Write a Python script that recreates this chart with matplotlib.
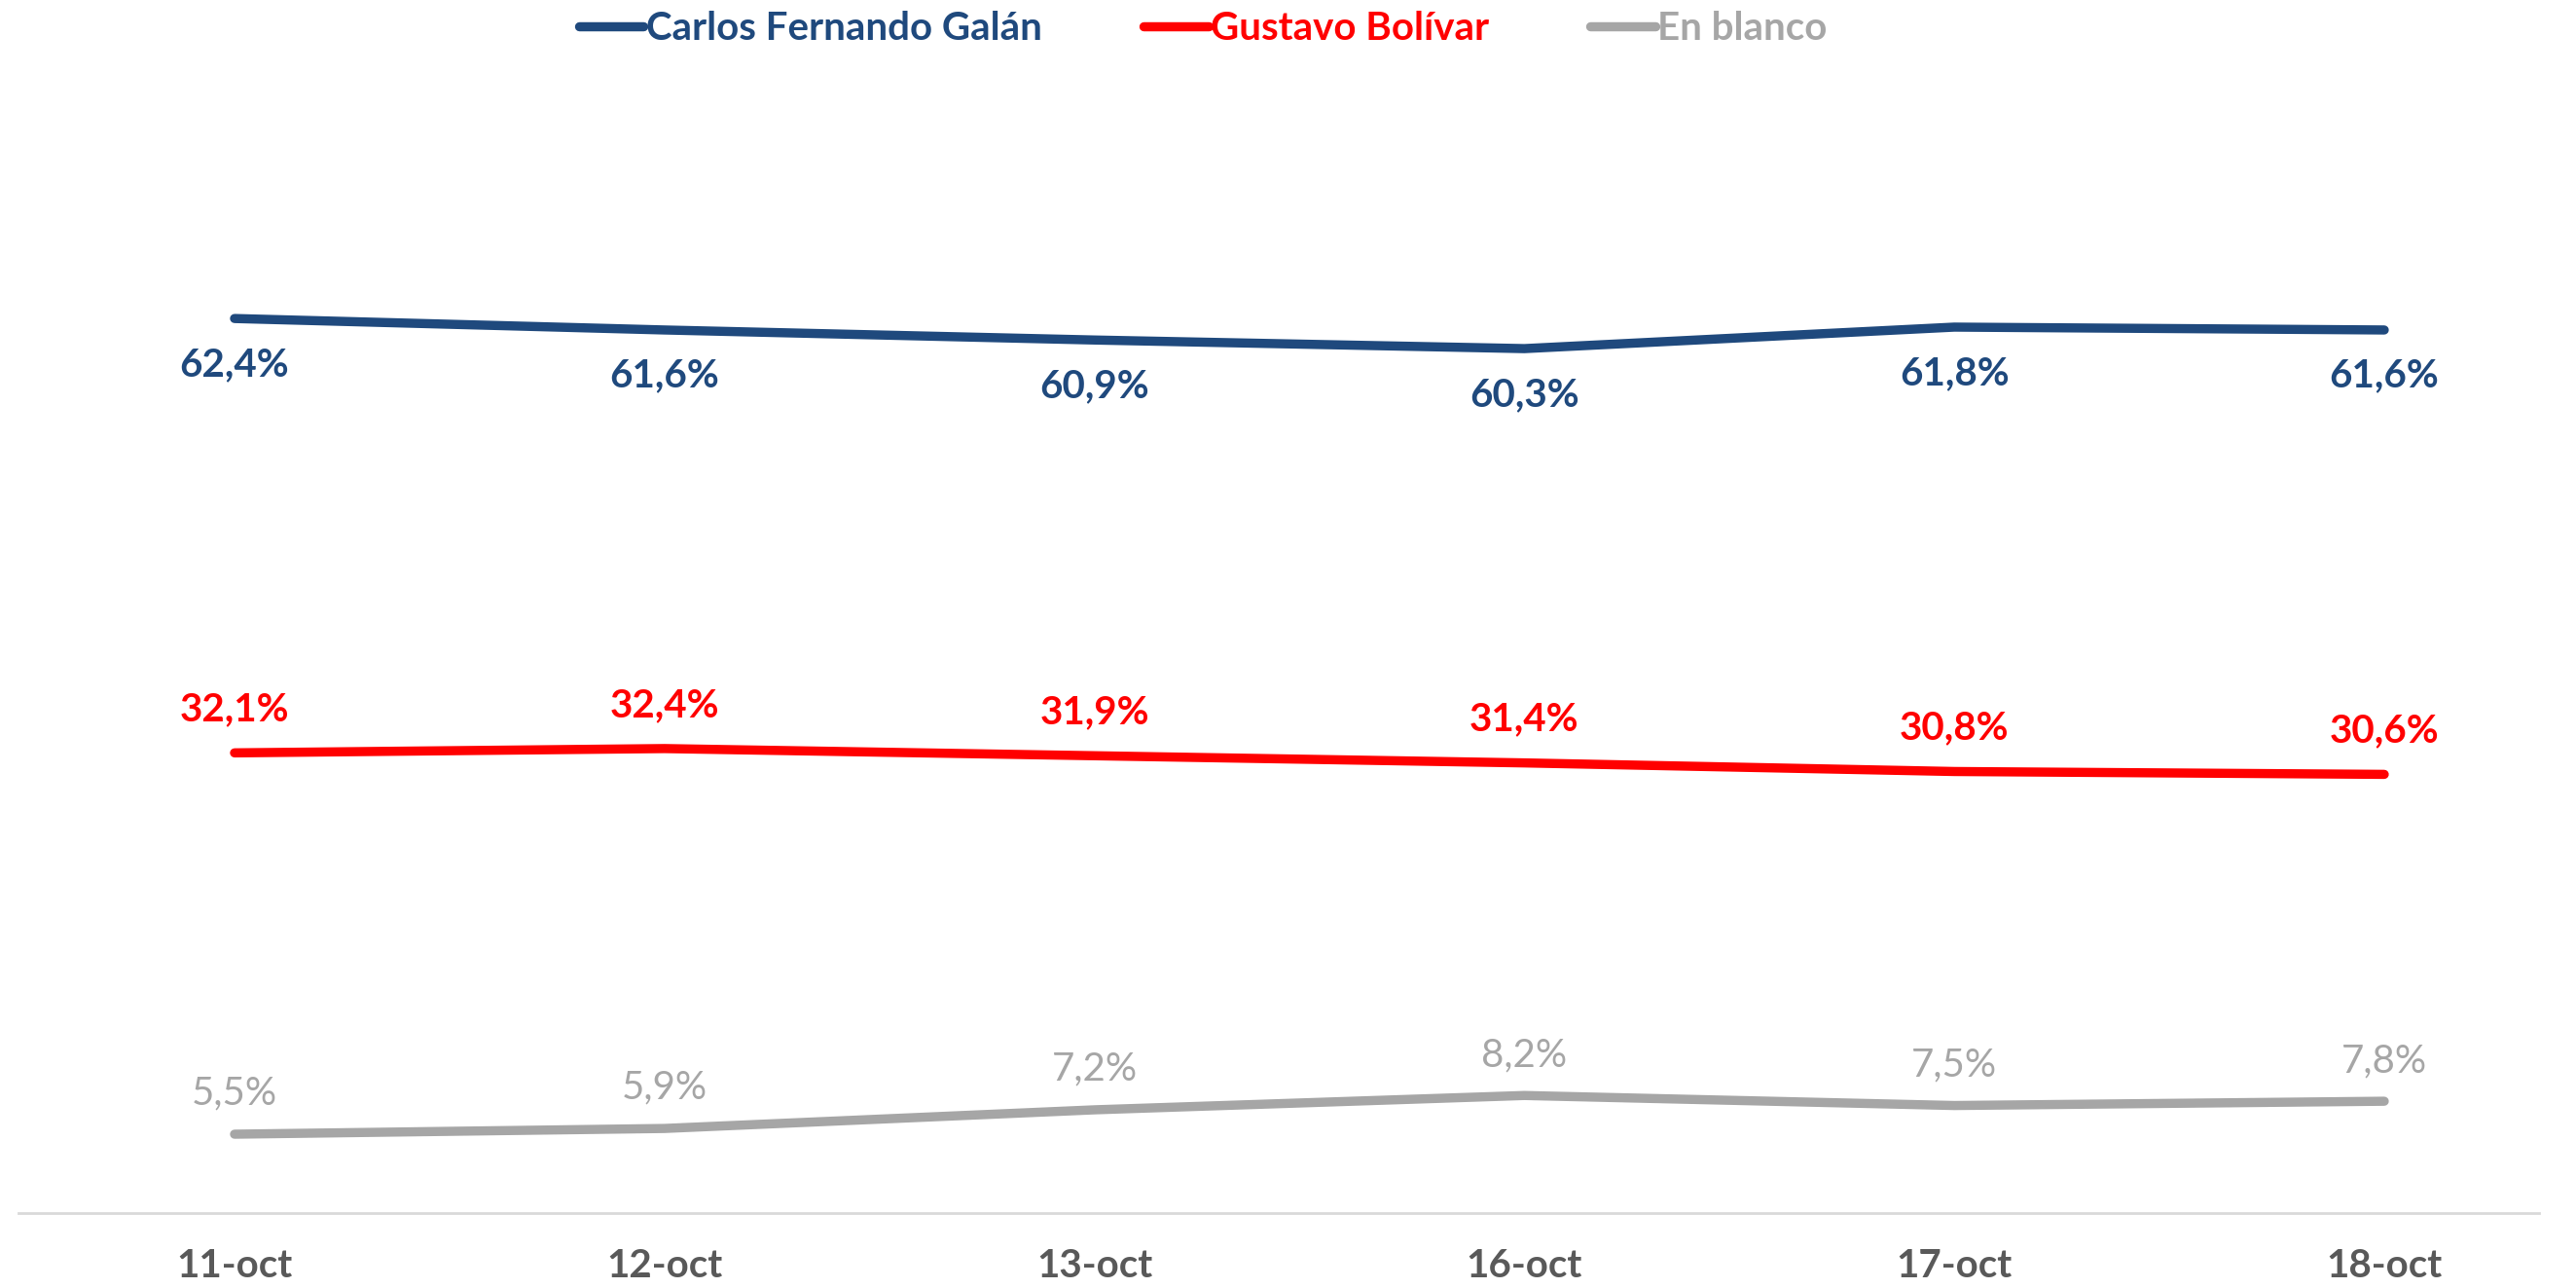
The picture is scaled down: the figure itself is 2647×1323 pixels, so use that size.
import matplotlib.pyplot as plt

fechas = ["11-oct", "12-oct", "13-oct", "16-oct", "17-oct", "18-oct"]
galan = [62.4, 61.6, 60.9, 60.3, 61.8, 61.6]
bolivar = [32.1, 32.4, 31.9, 31.4, 30.8, 30.6]
blanco = [5.5, 5.9, 7.2, 8.2, 7.5, 7.8]

nombres = ["Carlos Fernando Galán", "Gustavo Bolívar", "En blanco"]
colores = ["#1F497D", "#FF0000", "#A6A6A6"]

plt.rcParams["font.family"] = ["Lato", "DejaVu Sans"]
FS = 29

fig = plt.figure(figsize=(26.47, 13.23), dpi=100)
ax = fig.add_axes([0, 0.0582, 1, 0.8904])

x = list(range(len(fechas)))
series = [galan, bolivar, blanco]
for vals, nombre, color in zip(series, nombres, colores):
    ax.plot(x, vals, color=color, lw=6.8, solid_capstyle="round", label=nombre)

# etiquetas de datos
for xi, v in zip(x, galan):
    ax.annotate(f"{v:.1f}%".replace(".", ","), (xi, v), xytext=(0, -34),
                textcoords="offset points", ha="center", va="center",
                fontsize=FS, fontweight="bold", color=colores[0])
for xi, v in zip(x, bolivar):
    ax.annotate(f"{v:.1f}%".replace(".", ","), (xi, v), xytext=(0, 32),
                textcoords="offset points", ha="center", va="center",
                fontsize=FS, fontweight="bold", color=colores[1])
for xi, v in zip(x, blanco):
    ax.annotate(f"{v:.1f}%".replace(".", ","), (xi, v), xytext=(0, 30),
                textcoords="offset points", ha="center", va="center",
                fontsize=FS, color=colores[2])

ax.set_xlim(-0.5455, 5.446)
ax.set_ylim(0, 80)
ax.set_xticks(x)
ax.set_xticklabels(fechas, fontsize=FS, fontweight="bold", color="#595959")
ax.tick_params(axis="x", length=0, pad=26)
ax.set_yticks([])
for s in ["top", "left", "right"]:
    ax.spines[s].set_visible(False)
ax.spines["bottom"].set_color("#D9D9D9")
ax.spines["bottom"].set_linewidth(2)
ax.spines["bottom"].set_bounds(-0.502, 5.36)

fig.legend(loc="center", bbox_to_anchor=(0.467, 0.978), ncol=3, frameon=False,
           handlelength=1.65, handletextpad=0.05, columnspacing=2.6,
           labelcolor="linecolor", prop={"weight": "bold", "size": FS})

fig.savefig("out.png", dpi=100)
